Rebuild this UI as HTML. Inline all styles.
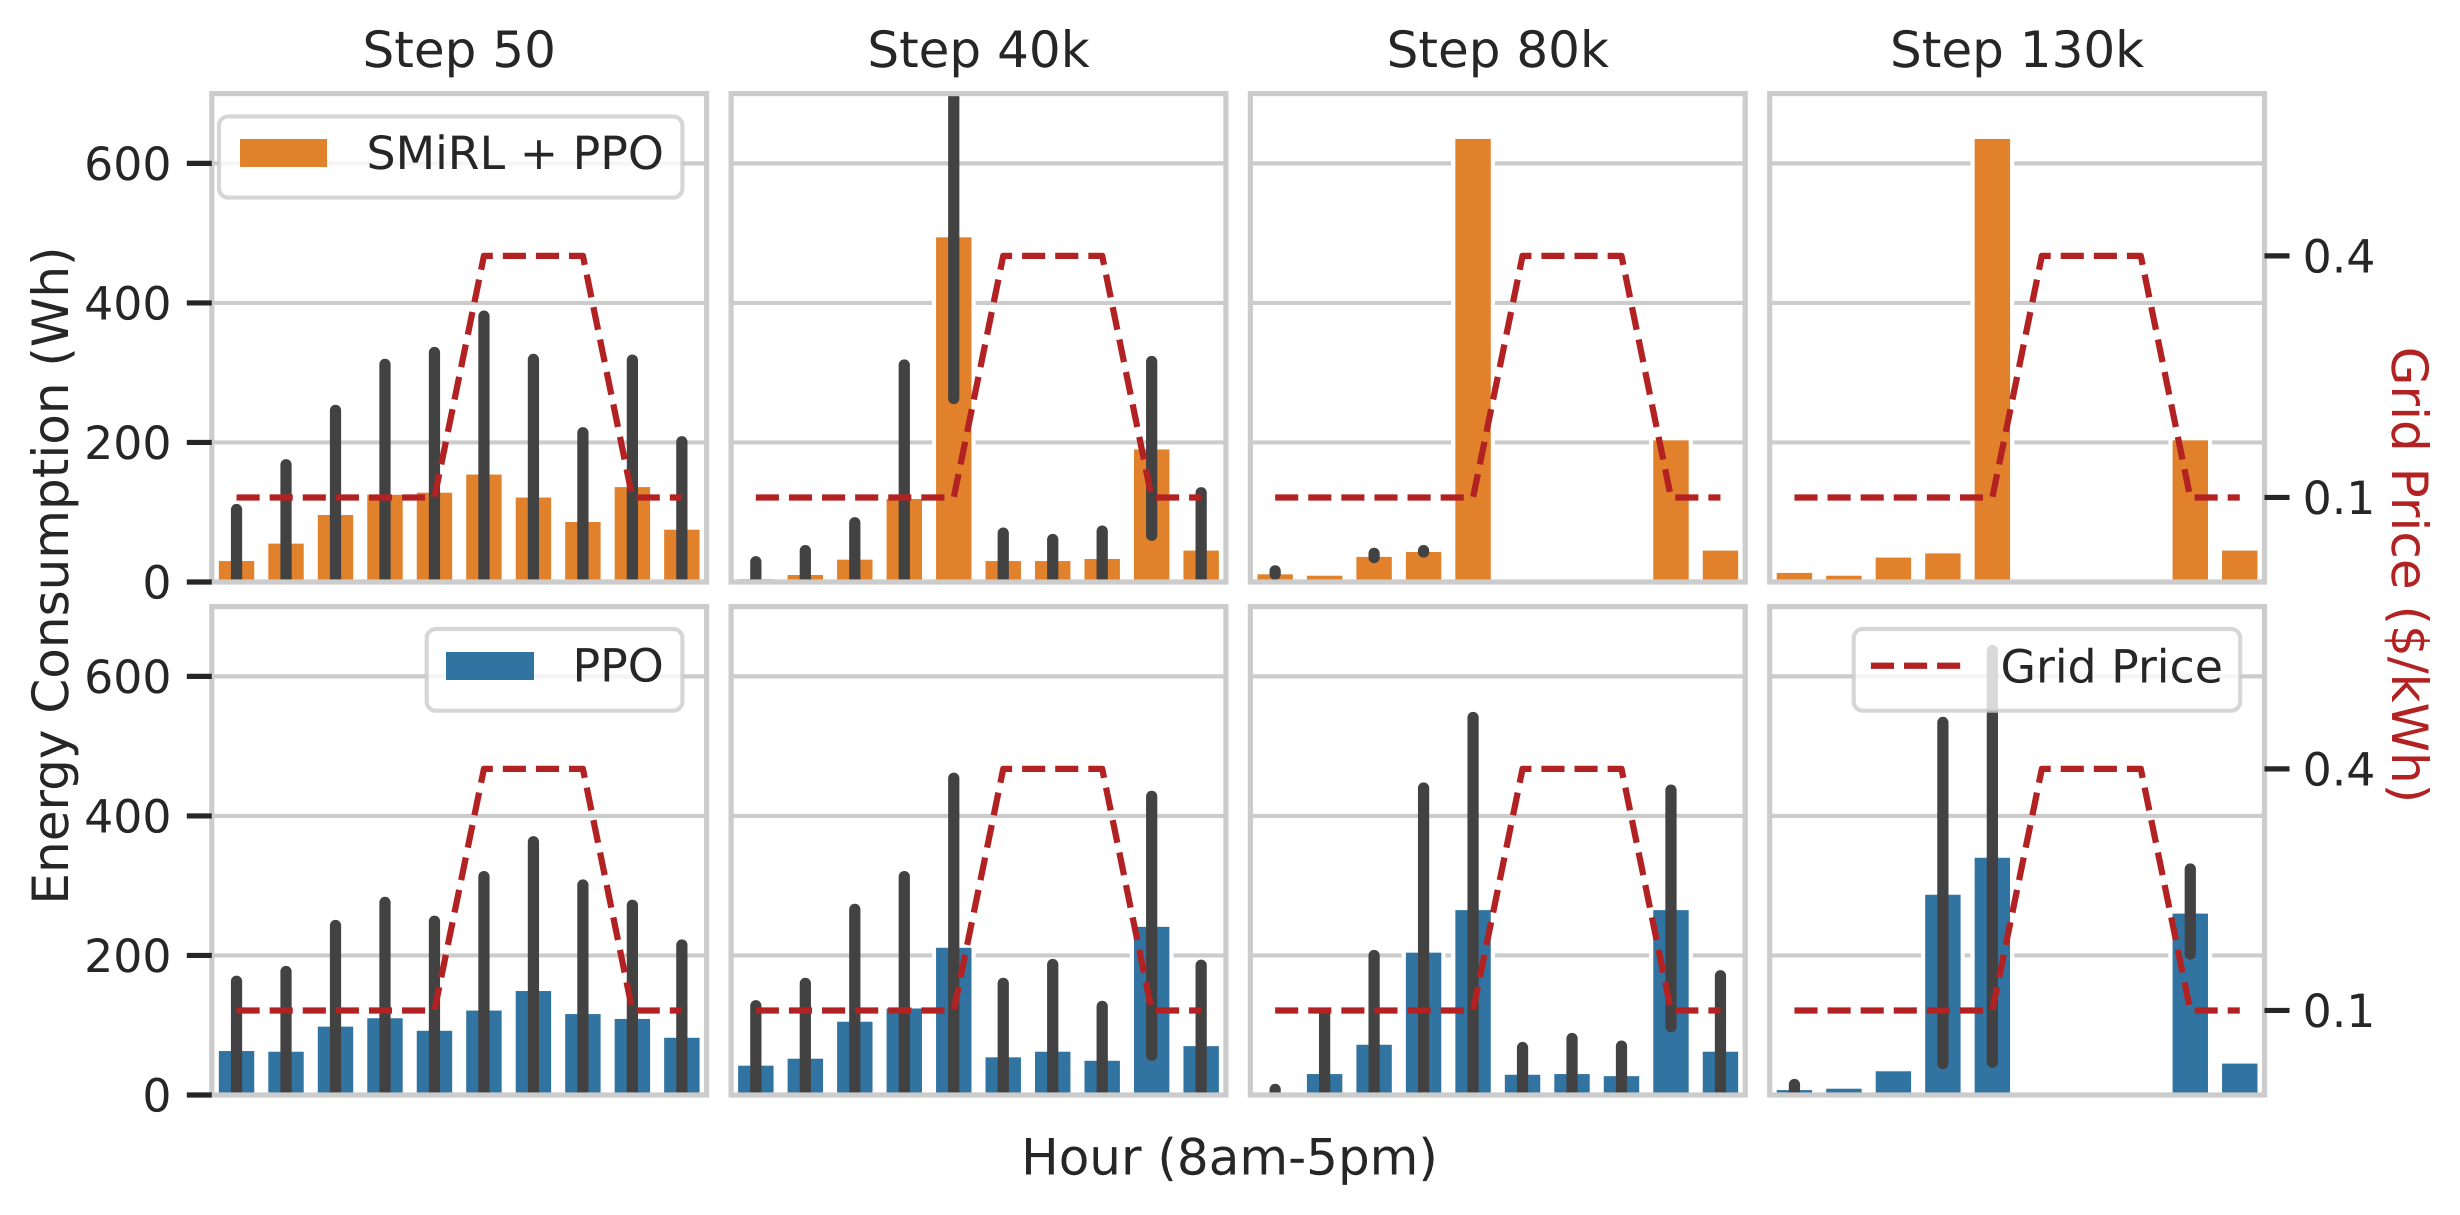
<!DOCTYPE html>
<html lang="en">
<head>
<meta charset="utf-8">
<title>Energy Consumption vs Grid Price</title>
<style>
  html, body { margin: 0; padding: 0; background: #ffffff; }
  svg { display: block; }
  text { font-family: "DejaVu Sans", "Liberation Sans", sans-serif; fill: #262626; text-rendering: geometricPrecision; }
</style>
</head>
<body>
<svg id="chart" xmlns="http://www.w3.org/2000/svg" width="2460" height="1215" viewBox="0 0 2460 1215">
  <rect x="0" y="0" width="2460" height="1215" fill="#ffffff"/>
  <g id="clips"></g>
  <g id="panels"></g>

  <text font-size="50" text-anchor="middle" transform="translate(68 575.5) rotate(-90)">Energy Consumption (Wh)</text>
  <text font-size="50" text-anchor="middle" style="fill:#b22222" transform="translate(2392 575) rotate(90)">Grid Price ($/kWh)</text>
  <text font-size="50" text-anchor="middle" x="1229.5" y="1174.7">Hour (8am-5pm)</text>

  <g>
    <rect x="219" y="116.4" width="463.4" height="81.2" rx="9.2" ry="9.2" fill="#ffffff" fill-opacity="0.8" stroke="#cccccc" stroke-opacity="0.8" stroke-width="4.17"/>
    <rect x="240" y="139" width="87" height="28" fill="#e1812c"/>
    <text font-size="45.8" x="366.5" y="169">SMiRL + PPO</text>
  </g>
  <g>
    <rect x="426.7" y="629" width="255.7" height="81.7" rx="9.2" ry="9.2" fill="#ffffff" fill-opacity="0.8" stroke="#cccccc" stroke-opacity="0.8" stroke-width="4.17"/>
    <rect x="446" y="652" width="88" height="28" fill="#3274a1"/>
    <text font-size="45.8" x="572.5" y="681.7">PPO</text>
  </g>
  <g>
    <rect x="1853.7" y="629" width="386.5" height="81.7" rx="9.2" ry="9.2" fill="#ffffff" fill-opacity="0.8" stroke="#cccccc" stroke-opacity="0.8" stroke-width="4.17"/>
    <line x1="1870.9" y1="665.7" x2="1960.4" y2="665.7" stroke="#b22222" stroke-width="6.25" stroke-dasharray="23.1 10"/>
    <text font-size="45.8" x="2000.5" y="682.5">Grid Price</text>
  </g>
</svg>

<script>
// ---- Categories and tick labels ----
const hours = ['8am', '9am', '10am', '11am', '12pm', '1pm', '2pm', '3pm', '4pm', '5pm'];
const stepTitles = ['Step 50', 'Step 40k', 'Step 80k', 'Step 130k'];
const energyTicks = [0, 200, 400, 600];
const priceTicks = [0.1, 0.4];

// ---- Grid price series ----
const gridPrice = [0.1, 0.1, 0.1, 0.1, 0.1, 0.4, 0.4, 0.4, 0.1, 0.1];

// ---- SMiRL + PPO mean energy ----
const smirlStep50 = [33, 58, 99, 128, 131, 157, 124, 89, 139, 78];
const smirlStep40k = [7, 13, 35, 122, 497, 33, 33, 36, 193, 48];
const smirlStep80k = [14, 12, 39, 46, 638, 0, 0, 0, 206, 48];
const smirlStep130k = [16, 12, 38, 44, 638, 0, 0, 0, 206, 48];

// ---- SMiRL + PPO error bar bounds (null = no visible bar) ----
const smirlLow50 = [0, 0, 0, 0, 0, 0, 0, 0, 0, 0];
const smirlHigh50 = [104, 168, 246, 312, 329, 381, 319, 214, 318, 201];
const smirlLow40k = [0, 0, 0, 0, 263, 0, 0, 0, 67, 0];
const smirlHigh40k = [29, 45, 85, 311, 760, 70, 61, 73, 316, 128];
const smirlLow80k = [11, null, 35, 43, null, null, null, null, null, null];
const smirlHigh80k = [16, null, 41, 45, null, null, null, null, null, null];
const smirlLow130k = [null, null, null, null, null, null, null, null, null, null];
const smirlHigh130k = [null, null, null, null, null, null, null, null, null, null];

// ---- PPO mean energy ----
const ppoStep50 = [66, 65, 101, 113, 95, 124, 152, 119, 112, 85];
const ppoStep40k = [45, 55, 108, 127, 214, 57, 65, 52, 244, 73];
const ppoStep80k = [0, 33, 75, 207, 268, 32, 33, 30, 268, 65];
const ppoStep130k = [10, 12, 37, 290, 343, 0, 0, 0, 263, 48];

// ---- PPO error bar bounds ----
const ppoLow50 = [0, 0, 0, 0, 0, 0, 0, 0, 0, 0];
const ppoHigh50 = [163, 177, 243, 276, 249, 313, 363, 301, 272, 215];
const ppoLow40k = [0, 0, 0, 0, 0, 0, 0, 0, 57, 0];
const ppoHigh40k = [128, 160, 266, 313, 454, 160, 187, 127, 428, 186];
const ppoLow80k = [0, 0, 0, 0, 0, 0, 0, 0, 98, 0];
const ppoHigh80k = [8, 116, 200, 440, 541, 68, 81, 70, 437, 171];
const ppoLow130k = [0, null, null, 45, 47, null, null, null, 202, null];
const ppoHigh130k = [15, null, null, 534, 637, null, null, null, 324, null];

// ---- Groupings per row ----
const rowMeans = [
  [smirlStep50, smirlStep40k, smirlStep80k, smirlStep130k],
  [ppoStep50, ppoStep40k, ppoStep80k, ppoStep130k]
];
const rowLows = [
  [smirlLow50, smirlLow40k, smirlLow80k, smirlLow130k],
  [ppoLow50, ppoLow40k, ppoLow80k, ppoLow130k]
];
const rowHighs = [
  [smirlHigh50, smirlHigh40k, smirlHigh80k, smirlHigh130k],
  [ppoHigh50, ppoHigh40k, ppoHigh80k, ppoHigh130k]
];
const rowColors = ['#e1812c', '#3274a1'];
const rowNames = ['smirl-ppo', 'ppo'];

// ---- Layout ----
const NS = 'http://www.w3.org/2000/svg';
const panelLeft = 211.8, panelStep = 519.3, panelWidth = 494.8;
const rowBottom0 = 582, rowStep = 513, panelHeight = 488.4;
const energyMax = 700, priceMin = -0.005, priceMax = 0.6015;
const barFraction = 0.8;
const INK = '#262626', GRID = '#cccccc', ERR = '#424242', PRICE = '#b22222';

function colLeft(col) { return panelLeft + col * panelStep; }
function rowTop(row) { return rowBottom0 + row * rowStep - panelHeight; }
function xScale(col, i) { return colLeft(col) + (i + 0.5) * panelWidth / hours.length; }
function yEnergy(row, v) { return rowBottom0 + row * rowStep - (v / energyMax) * panelHeight; }
function yPrice(row, v) { return rowBottom0 + row * rowStep - ((v - priceMin) / (priceMax - priceMin)) * panelHeight; }

function make(tag, attrs, parent) {
  const el = document.createElementNS(NS, tag);
  for (const k in attrs) el.setAttribute(k, attrs[k]);
  parent.appendChild(el);
  return el;
}

const panels = document.getElementById('panels');
const clips = document.getElementById('clips');

for (let row = 0; row < 2; row++) {
  for (let col = 0; col < stepTitles.length; col++) {
    const left = colLeft(col), top = rowTop(row);
    const clipId = 'clip-' + row + '-' + col;

    const clip = make('clipPath', { id: clipId }, clips);
    
    
    make('rect', { x: left, y: top, width: panelWidth, height: panelHeight }, clip);

    const g = make('g', {}, panels);
    
    

    // Horizontal grid
    energyTicks.forEach(function (t) {
      const grid = make('line', { x1: left, x2: left + panelWidth, y1: yEnergy(row, t), y2: yEnergy(row, t), stroke: GRID, 'stroke-width': 4.17 }, g);
      
      
    });

    const plot = make('g', { 'clip-path': 'url(#' + clipId + ')' }, g);
    
    

    // Bars
    const barW = barFraction * panelWidth / hours.length;
    rowMeans[row][col].forEach(function (v, i) {
      if (v <= 0) return;
      const bar = make('rect', {
        x: xScale(col, i) - barW / 2,
        y: yEnergy(row, v),
        width: barW,
        height: yEnergy(row, 0) - yEnergy(row, v),
        fill: rowColors[row],
        stroke: '#ffffff',
        'stroke-width': 4.17
      }, plot);
      
      
    });

    // Error bars
    rowHighs[row][col].forEach(function (hi, i) {
      const lo = rowLows[row][col][i];
      if (hi === null || lo === null) return;
      const err = make('line', {
        x1: xScale(col, i), x2: xScale(col, i),
        y1: yEnergy(row, lo), y2: yEnergy(row, hi),
        stroke: ERR, 'stroke-width': 11.25, 'stroke-linecap': 'round'
      }, plot);
      
      
    });

    // Grid price line
    const pts = gridPrice.map(function (p, i) { return xScale(col, i).toFixed(2) + ',' + yPrice(row, p).toFixed(2); }).join(' ');
    const priceLine = make('polyline', {
      points: pts, fill: 'none', stroke: PRICE, 'stroke-width': 6.25,
      'stroke-dasharray': '23.1 10', 'stroke-linejoin': 'round'
    }, plot);
    
    

    // Spines
    const frame = make('rect', { x: left, y: top, width: panelWidth, height: panelHeight, fill: 'none', stroke: GRID, 'stroke-width': 5.2 }, g);
    
    

    // Titles on top row
    if (row === 0) {
      const title = make('text', { x: left + panelWidth / 2, y: 67, 'text-anchor': 'middle', 'font-size': 50 }, g);
      title.textContent = stepTitles[col];
      
      
    }

    // Left axis ticks
    if (col === 0) {
      energyTicks.forEach(function (t) {
        const y = yEnergy(row, t);
        const tick = make('line', { x1: left - 25, x2: left, y1: y, y2: y, stroke: INK, 'stroke-width': 5.2 }, g);
        
        
        const label = make('text', { x: 171.5, y: y + 16.7, 'text-anchor': 'end', 'font-size': 45.8 }, g);
        label.textContent = String(t);
        
        
      });
    }

    // Right axis ticks
    if (col === stepTitles.length - 1) {
      priceTicks.forEach(function (t) {
        const y = yPrice(row, t);
        const tick = make('line', { x1: left + panelWidth, x2: left + panelWidth + 25, y1: y, y2: y, stroke: INK, 'stroke-width': 5.2 }, g);
        
        
        const label = make('text', { x: 2302.6, y: y + 16.7, 'text-anchor': 'start', 'font-size': 45.8 }, g);
        label.textContent = t.toFixed(1);
        
        
      });
    }
  }
}
</script>
</body>
</html>
